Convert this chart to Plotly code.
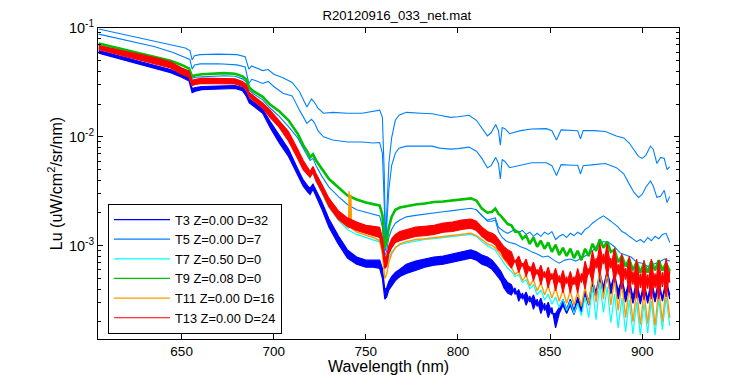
import plotly.graph_objects as go

# ---------------- data ----------------
title_text = "R20120916_033_net.mat"
x_ticks = [650, 700, 750, 800, 850, 900]
y_ticks = [0.001, 0.01, 0.1]
y_ticktext = ["10<sup>-3</sup>", "10<sup>-2</sup>", "10<sup>-1</sup>"]
legend_names = ["T3 Z=0.00 D=32", "T5 Z=0.00 D=7", "T7 Z=0.50 D=0",
                "T9 Z=0.08 D=0", "T11 Z=0.00 D=16", "T13 Z=0.00 D=24"]

# wavelength grid used by most curves (nm)
wl = [605, 612, 620, 628, 636, 644, 650, 654, 655.7, 657.5,
      661, 667, 673, 679, 683, 685, 686.7, 689, 694, 698,
      703, 708, 713, 716, 718.5, 719.7, 721.3, 723, 726, 730,
      735, 740, 745, 750, 754, 757.5, 759, 760.3, 761.3, 762.5,
      764, 766, 768.5, 772, 777, 782, 787, 792, 797, 802,
      807, 810, 813, 816, 818.5, 820.3, 822, 823.3, 825, 827,
      829, 831, 833, 835, 837, 839, 841, 843, 845, 847,
      849, 851, 853, 855, 857, 859, 861, 863, 865, 867,
      869, 871, 873, 875, 877, 879, 881, 883, 885, 887,
      889, 891, 893, 895, 897, 899, 901, 903, 905, 907,
      909, 911, 913, 915]

# T5 upper two casts (own grid)
wl_t5 = [605, 615, 625, 635, 645, 652, 654.5, 655.7, 657, 660,
         670, 680, 684.5, 686.5, 688, 690, 694, 697, 700, 705,
         710, 714, 716, 718, 720.5, 722, 724, 727, 732, 740,
         748, 754, 757.5, 759, 760, 760.7, 761.5, 762.5, 764, 766,
         768, 772, 780, 786, 790, 796, 800, 806, 810, 813,
         816, 818, 820.5, 822, 823, 824, 825.5, 828, 834, 840,
         848, 851, 853.5, 856, 862, 865, 866.5, 868, 874, 880,
         886, 890, 893, 895.5, 898, 900, 902, 904.5, 906, 908,
         910, 912, 913.5, 915]
t5_a = [.0979, .0897, .0822, .0754, .0691, .0655, .0620, .0510, .0556, .0569,
        .0575, .0569, .0544, .0419, .0448, .0433, .0406, .0415, .0376, .0349,
        .0316, .0260, .0219, .0188, .0223, .0209, .0184, .0165, .0168, .0165,
        .0165, .0172, .0176, .0151, .00458, .00109, .00239, .00569, .00978, .0142,
        .0158, .0168, .0165, .0163, .0158, .0151, .0153, .0158, .0142, .0119,
        .0102, .0109, .0130, .0114, .00840, .0122, .0119, .0107, .0114, .0118,
        .0119, .0114, .00937, .0116, .0114, .0114, .00957, .0114, .0114, .0112,
        .0102, .00978, .00878, .00754, .00662, .00634, .00677, .00822, .00771, .00569,
        .00648, .00634, .00499, .00533]
t5_b = [.0878, .0805, .0738, .0676, .0600, .0533, .0515, .0419, .0458, .0468,
        .0470, .0458, .0438, .0309, .0338, .0330, .0309, .0323, .0290, .0252,
        .0238, .0176, .0151, .0133, .0145, .0136, .0114, .0100, .00937, .00897,
        .00897, .00878, .00888, .00707, .00239, .000897, .00172, .00330, .00544, .00707,
        .00788, .00822, .00822, .00822, .00788, .00771, .00780, .00805, .00738, .00634,
        .00521, .00544, .00648, .00569, .00410, .00620, .00594, .00521, .00548, .00578,
        .00578, .00544, .00441, .00556, .00548, .00548, .00458, .00544, .00556, .00569,
        .00521, .00458, .00368, .00310, .00278, .00296, .00345, .00393, .00353, .00278,
        .00284, .00323, .00249, .00284]

# T5 middle casts
t5_c = [.0691, .0641, .0594, .0550, .0515, .0472, .0433, .0402, .0345, .0353,
        .0356, .0360, .0364, .0360, .0341, .0320, .0269, .0249, .0219, .0184,
        .0154, .0124, .00978, .00788, .00662, .00607, .00634, .00544, .00438, .00345,
        .00284, .00239, .00214, .00203, .00196, .00188, .00148, .000804, .000897, .00119,
        .00141, .00161, .00172, .00184, .00190, .00194, .00201, .00205, .00210, .00214,
        .00221, .00214, .00188, .00172, .00176, .00180, .00148, .00141, .00135, .00130,
        .00135, .00141, .00133, .00138, .00127, .00133, .00122, .00130, .00122, .00133,
        .00127, .00135, .00114, .00122, .00127, .00119, .00130, .00124, .00133, .00127,
        .00141, .00148, .00161, .00172, .00180, .00188, .00176, .00168, .00158, .00148,
        .00135, .00130, .00122, .00116, .00109, .00114, .00107, .00119, .00111, .00122,
        .00116, .00127, .00130, .00107]
wl_t5d = [810, 813, 816, 818.5, 820.3, 822, 824, 826, 828, 831,
          834, 837, 840, 843, 846, 849, 852, 855, 858, 861,
          864, 867, 870, 873, 876, 879, 882, 885, 888, 891,
          894, 897, 900, 903, 906, 909, 912, 915]
t5_d = [.00214, .00188, .00168, .00168, .00172, .00135, .00119, .00111, .00107, .00104,
        .000978, .000937, .000878, .000840, .000787, .000804, .000737, .000691, .000737, .000754,
        .000722, .000770, .000822, .000897, .00102, .00109, .00107, .000978, .000859, .000822,
        .000787, .000706, .000691, .000647, .000676, .000706, .000754, .000722]

# T7
t7 = [.0648, .0600, .0556, .0515, .0483, .0443, .0389, .0360, .0303, .0309,
      .0316, .0316, .0316, .0313, .0296, .0278, .0236, .0219, .0188, .0158,
      .0127, .00957, .00662, .00521, .00448, .00419, .00468, .00393, .00310, .00224,
      .00172, .00141, .00127, .00119, .00114, .00108, .000878, .000620, .000647, .000770,
      .000878, .000957, .00102, .00106, .00110, .00114, .00116, .00119, .00122, .00124,
      .00127, .00122, .00109, .00100, .000957, .000916, .000822, .000770, .000691, .000620,
      .000581, .000521, .000544, .000458, .000488, .000402, .000438, .000353, .000393, .000316,
      .000360, .000290, .000338, .000271, .000323, .000254, .000309, .000238, .000296, .000228,
      .000338, .000218, .000419, .000209, .000458, .000244, .000419, .000196, .000360, .000176,
      .000330, .000161, .000316, .000155, .000303, .000151, .000296, .000158, .000309, .000151,
      .000323, .000169, .000338, .000184]

# T9
t9 = [.0722, .0676, .0627, .0581, .0544, .0499, .0458, .0424, .0360, .0368,
      .0376, .0380, .0385, .0380, .0360, .0338, .0284, .0263, .0233, .0198,
      .0172, .0142, .0107, .00840, .00722, .00648, .00691, .00607, .00510, .00410,
      .00345, .00290, .00266, .00249, .00241, .00234, .00192, .000957, .00111, .00148,
      .00184, .00214, .00224, .00231, .00239, .00244, .00252, .00255, .00260, .00266,
      .00272, .00260, .00219, .00201, .00205, .00219, .00196, .00188, .00172, .00158,
      .00154, .00135, .00133, .00116, .00124, .00104, .00119, .000978, .00111, .000937,
      .00107, .000878, .00102, .000822, .000957, .000804, .000937, .000770, .000897, .000737,
      .000937, .000804, .00104, .000897, .00114, .000957, .00109, .000878, .000916, .000706,
      .000804, .000647, .000754, .000594, .000706, .000568, .000691, .000568, .000722, .000594,
      .000737, .000594, .000691, .000581]

# T11 (own grid, includes the narrow spike near 741 nm)
wl_t11 = [605, 612, 620, 628, 636, 644, 650, 654, 655.7, 657.5,
          661, 667, 673, 679, 683, 685, 686.7, 689, 694, 698,
          703, 708, 713, 716, 718.5, 719.7, 721.3, 723, 726, 730,
          735, 740, 740.6, 740.9, 741.2, 741.6, 741.9, 742.2,
          745, 750, 754, 757.5, 759, 760.3, 761.3, 762.5,
          764, 766, 768.5, 772, 777, 782, 787, 792, 797, 802,
          807, 810, 813, 816, 818.5, 820.3, 822, 823.3, 825, 827,
          829, 831, 833, 835, 837, 839, 841, 843, 845, 847,
          849, 851, 853, 855, 857, 859, 861, 863, 865, 867,
          869, 871, 873, 875, 877, 879, 881, 883, 885, 887,
          889, 891, 893, 895, 897, 899, 901, 903, 905, 907,
          909, 911, 913, 915]
t11 = [.0662, .0613, .0569, .0527, .0494, .0453, .0397, .0368, .0309, .0316,
       .0323, .0323, .0323, .0320, .0303, .0284, .0241, .0223, .0192, .0161,
       .0130, .00978, .00677, .00533, .00458, .00429, .00478, .00402, .00316, .00229,
       .00176, .00148, .00145, .00316, .00154, .00148, .00296, .00145,
       .00133, .00124, .00119, .00111, .000840, .000499, .000544, .000706,
       .000840, .000957, .00104, .00109, .00114, .00116, .00119, .00122, .00124, .00127,
       .00130, .00124, .00114, .00104, .00100, .000957, .000878, .000822, .000737, .000676,
       .000634, .000544, .000581, .000478, .000533, .000428, .000488, .000385, .000458, .000353,
       .000428, .000330, .000410, .000309, .000393, .000296, .000385, .000284, .000376, .000277,
       .000419, .000290, .000521, .000303, .000620, .000323, .000581, .000284, .000499, .000254,
       .000458, .000218, .000419, .000200, .000393, .000188, .000376, .000192, .000393, .000184,
       .000402, .000200, .000419, .000218]

# T13 (upper and lower casts)
t13_a = [.0691, .0655, .0607, .0569, .0533, .0488, .0429, .0402, .0330, .0338,
         .0345, .0345, .0345, .0341, .0323, .0303, .0255, .0238, .0205, .0176,
         .0142, .0112, .00771, .00607, .00521, .00478, .00533, .00458, .00368, .00272,
         .00210, .00180, .00165, .00154, .00151, .00148, .00119, .000770, .000804, .00100,
         .00116, .00127, .00135, .00141, .00148, .00151, .00154, .00161, .00165, .00172,
         .00176, .00168, .00148, .00135, .00130, .00124, .00114, .00109, .000978, .000916,
         .000878, .000706, .000804, .000647, .000754, .000581, .000706, .000544, .000662, .000510,
         .000634, .000488, .000620, .000458, .000594, .000448, .000581, .000438, .000620, .000458,
         .000722, .000544, .000897, .000620, .00104, .000676, .00104, .000620, .000957, .000544,
         .000840, .000488, .000804, .000438, .000754, .000410, .000737, .000402, .000754, .000410,
         .000737, .000419, .000770, .000458]
t13_b = [.0634, .0587, .0544, .0505, .0468, .0429, .0376, .0353, .0296, .0303,
         .0309, .0309, .0309, .0306, .0290, .0272, .0233, .0214, .0184, .0151,
         .0122, .00917, .00634, .00499, .00448, .00429, .00468, .00393, .00316, .00229,
         .00176, .00151, .00138, .00130, .00124, .00119, .000916, .000620, .000647, .000840,
         .000957, .00107, .00111, .00116, .00122, .00124, .00127, .00133, .00135, .00141,
         .00145, .00138, .00122, .00111, .00107, .00102, .000916, .000878, .000770, .000706,
         .000620, .000737, .000568, .000691, .000521, .000647, .000478, .000607, .000438, .000581,
         .000410, .000556, .000385, .000533, .000368, .000521, .000368, .000521, .000368, .000556,
         .000402, .000620, .000458, .000770, .000521, .000840, .000521, .000770, .000458, .000676,
         .000402, .000620, .000368, .000581, .000330, .000556, .000316, .000544, .000323, .000556,
         .000323, .000568, .000338, .000581]

# T3 (upper and lower casts)
t3_a = [.0620, .0581, .0533, .0488, .0453, .0415, .0376, .0349, .0278, .0284,
        .0290, .0293, .0296, .0296, .0284, .0260, .0223, .0209, .0180, .0139,
        .0102, .00771, .00510, .00402, .00353, .00338, .00368, .00323, .00255, .00176,
        .00124, .000916, .000787, .000737, .000737, .000737, .000620, .000393, .000410, .000468,
        .000521, .000568, .000607, .000676, .000722, .000754, .000787, .000804, .000840, .000878,
        .000916, .000878, .000822, .000787, .000737, .000676, .000620, .000581, .000510, .000458,
        .000438, .000360, .000393, .000323, .000376, .000303, .000353, .000277, .000330, .000254,
        .000303, .000238, .000238, .000271, .000323, .000260, .000323, .000254, .000338, .000271,
        .000385, .000309, .000468, .000376, .000568, .000419, .000594, .000419, .000544, .000385,
        .000499, .000353, .000488, .000338, .000468, .000323, .000458, .000323, .000478, .000338,
        .000468, .000330, .000488, .000353]
t3_b = [.0587, .0544, .0499, .0458, .0424, .0389, .0353, .0327, .0255, .0263,
        .0272, .0275, .0278, .0278, .0266, .0238, .0205, .0192, .0165, .0122,
        .00878, .00662, .00438, .00353, .00310, .00296, .00330, .00284, .00219, .00148,
        .00104, .000770, .000676, .000634, .000634, .000620, .000499, .000323, .000338, .000393,
        .000428, .000478, .000521, .000556, .000594, .000634, .000662, .000676, .000706, .000737,
        .000770, .000737, .000676, .000647, .000607, .000556, .000510, .000478, .000410, .000368,
        .000353, .000410, .000309, .000368, .000284, .000345, .000260, .000323, .000238, .000296,
        .000218, .000271, .000176, .000238, .000284, .000238, .000284, .000233, .000296, .000244,
        .000353, .000284, .000402, .000338, .000499, .000368, .000521, .000360, .000468, .000323,
        .000438, .000303, .000419, .000296, .000410, .000290, .000410, .000296, .000419, .000303,
        .000428, .000309, .000438, .000323]

# ---------------- figure ----------------
COL = {"T3": "#0000FF", "T5": "#0080FF", "T7": "#00FFFF",
       "T9": "#00C000", "T11": "#FF9900", "T13": "#FF0000"}

fig = go.Figure()


def add(x, y, key, label, width, show, fill=None):
    fig.add_trace(go.Scatter(x=x, y=y, mode="lines", name=label,
                             legendgroup=key, showlegend=show,
                             line=dict(color=COL[key], width=width),
                             fill=fill, fillcolor=COL[key] if fill else None))


add(wl, t3_a, "T3", legend_names[0], 1.2, True)
add(wl, t3_b, "T3", legend_names[0], 1.2, False, fill="tonexty")
add(wl_t5, t5_a, "T5", legend_names[1], 1.1, True)
add(wl_t5, t5_b, "T5", legend_names[1], 1.1, False)
add(wl, t5_c, "T5", legend_names[1], 1.1, False)
add(wl_t5d, t5_d, "T5", legend_names[1], 1.1, False)
add(wl, t7, "T7", legend_names[2], 1.2, True)
add(wl, t9, "T9", legend_names[3], 1.2, True)      # thin copy for the legend key
add(wl, t9, "T9", legend_names[3], 2.6, False)     # the visible band
add(wl_t11, t11, "T11", legend_names[4], 1.4, True)
add(wl, t13_a, "T13", legend_names[5], 1.2, True)
add(wl, t13_b, "T13", legend_names[5], 1.2, False, fill="tonexty")

FONT = "Liberation Sans, Arial, Helvetica, sans-serif"
minor_vals = [m * 10.0 ** k for k in (-4, -3, -2) for m in range(2, 10)]

# the page body adds an 8 px offset, so the figure is 8 px smaller each way
fig.update_layout(
    width=742, height=367,
    margin=dict(l=90, r=71, t=20, b=36, autoexpand=False),
    paper_bgcolor="white", plot_bgcolor="white",
    font=dict(family=FONT, size=13.5, color="black"),
    title=dict(text=title_text, x=0.524, xanchor="center",
               y=0.993, yanchor="top", font=dict(size=13.2)),
    showlegend=True,
    legend=dict(x=0.0172, y=0.435, xanchor="left", yanchor="top",
                bgcolor="white", bordercolor="black", borderwidth=1,
                itemwidth=56, tracegroupgap=0, font=dict(size=12.8)),
)
fig.update_xaxes(range=[604.6, 920], tickvals=x_ticks, ticks="inside",
                 ticklen=5, tickcolor="black", showline=True, linecolor="black",
                 linewidth=1, mirror="allticks", showgrid=False, zeroline=False,
                 automargin=False, tickfont=dict(size=13.5),
                 title=dict(text="Wavelength (nm)", standoff=2))
fig.update_yaxes(type="log", range=[-3.857, -1], tickvals=y_ticks,
                 ticktext=y_ticktext, ticks="inside", ticklen=5,
                 tickcolor="black", showline=True, linecolor="black",
                 linewidth=1, mirror="allticks", showgrid=False, zeroline=False,
                 automargin=False, tickfont=dict(size=14.5),
                 minor=dict(ticks="inside", ticklen=3, tickcolor="black",
                            tickvals=minor_vals, showgrid=False),
                 title=dict(text="Lu (uW/cm<sup>2</sup>/sr/nm)", standoff=2))

fig.write_html("out.html")
